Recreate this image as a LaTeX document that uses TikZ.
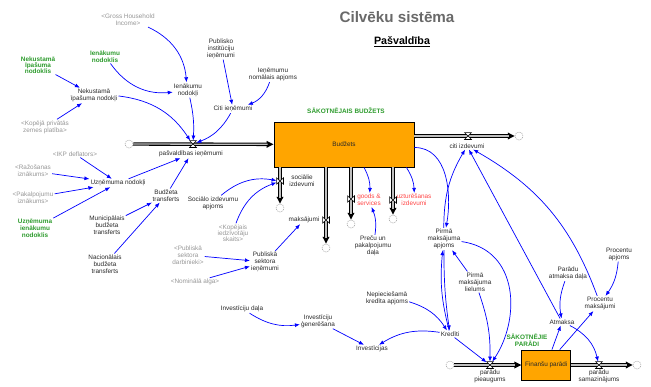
\documentclass[tikz,border=0pt]{standalone}
\usepackage{fontspec}
\setmainfont{Liberation Sans}
\usetikzlibrary{arrows.meta}
\definecolor{sdblue}{RGB}{0,0,255}
\definecolor{sdgreen}{RGB}{45,155,45}
\definecolor{sdred}{RGB}{255,70,70}
\definecolor{sdgrey}{RGB}{150,150,150}
\definecolor{sdtext}{RGB}{40,40,40}
\definecolor{stockfill}{RGB}{255,165,0}
\definecolor{titlegrey}{RGB}{105,105,105}

\begin{document}
\begin{tikzpicture}[x=1pt,y=1pt,
  lbl/.style={font=\fontsize{6.4}{7}\selectfont, align=center, inner sep=1pt, text=sdtext},
  shadow/.style={lbl, text=sdgrey},
  given/.style={lbl, text=sdgreen, font=\fontsize{6.4}{7}\selectfont\bfseries},
  redlbl/.style={lbl, text=sdred},
  stock/.style={lbl, draw=black, line width=0.8pt, fill=stockfill, inner sep=0pt},
  cloud/.style={circle, draw=gray!75, dash pattern=on 1.3pt off 0.9pt, line width=0.5pt, minimum size=8pt, inner sep=0pt},
  pipe/.style={line width=3.4pt, draw=black, -{Triangle[length=7pt,width=6.5pt]},
    postaction={draw=gray!50, line width=1.3pt, -, shorten >=6pt}},
  valveh/.style={minimum width=6.5pt, minimum height=6.5pt, inner sep=0pt},
  valvev/.style={minimum width=6.5pt, minimum height=6pt, inner sep=0pt},
  valvedraw/.style={draw=black, line width=0.6pt, fill=white, line join=miter},
  conn/.style={draw=sdblue, line width=0.7pt, -{Latex[length=5pt,width=4pt]}},
]
\useasboundingbox (0,0) rectangle (651,-386);

% headings
\node[font=\fontsize{15.2}{17}\selectfont\bfseries, text=titlegrey] (ttl) at (397,-17) {Cilvēku sistēma};
\node[font=\fontsize{10.7}{12}\selectfont\bfseries, text=black] (sub) at (402,-42) {\underline{Pašvaldība}};

% stocks
\node[stock, minimum width=140pt, minimum height=45pt] (bud) at (344,-144.5) {Budžets};
\node[stock, minimum width=49pt, minimum height=30pt] (fin) at (546.3,-365) {Finanšu parādi};
\node[given] (sakb) at (346,-111) {SĀKOTNĒJAIS BUDŽETS};
\node[given] (sakp) at (527,-340) {SĀKOTNĒJIE\\PARĀDI};

% clouds
\node[cloud] (cin) at (129,-144) {};
\node[cloud] (cciz) at (519,-136) {};
\node[cloud] (csoc) at (280,-208) {};
\node[cloud] (cmk) at (326,-248) {};
\node[cloud] (cgs) at (351,-224) {};
\node[cloud] (cuz) at (393,-219) {};
\node[cloud] (cpin) at (450,-365) {};
\node[cloud] (cpout) at (637,-365) {};

% flow pipes
\draw[pipe] (cin) -- (bud);
\draw[pipe] (cciz -| bud.east) -- (cciz);
\draw[pipe] (csoc |- bud.south) -- (csoc);
\draw[pipe] (cmk |- bud.south) -- (cmk);
\draw[pipe] (cgs |- bud.south) -- (cgs);
\draw[pipe] (cuz |- bud.south) -- (cuz);
\draw[pipe] (cpin) -- (fin);
\draw[pipe] (fin) -- (cpout);

% valves
\node[valveh] (vin) at (193,-144) {};
\node[valveh] (vciz) at (468,-136) {};
\node[valvev] (vsoc) at (280,-181) {};
\node[valvev] (vmk) at (326,-220) {};
\node[valvev] (vgs) at (351,-199) {};
\node[valvev] (vuz) at (393,-200) {};
\node[valveh] (vpin) at (490,-365) {};
\node[valveh] (vpout) at (599,-365) {};
\foreach \v in {vin,vciz,vpin,vpout}
  \draw[valvedraw] (\v.north west) -- (\v.north east) -- (\v.south west) -- (\v.south east) -- cycle;
\foreach \v in {vsoc,vmk,vgs,vuz}
  \draw[valvedraw] (\v.north west) -- (\v.south west) -- (\v.north east) -- (\v.south east) -- cycle;

% flow names
\node[lbl] (pie) at (191,-154) {pašvaldības ieņēmumi};
\node[lbl] (ciz) at (467,-146) {citi izdevumi};
\node[lbl] (slbl) at (302,-181) {sociālie\\izdevumi};
\node[lbl] (mk) at (304,-220) {maksājumi};
\node[redlbl] (gs) at (369,-200) {goods \&\\services};
\node[redlbl] (uzt) at (414,-200) {uzturēšanas\\izdevumi};
\node[lbl] (ppl) at (490,-376) {parādu\\pieaugums};
\node[lbl] (psl) at (599,-376) {parādu\\samazinājums};

% auxiliaries and inputs
\node[shadow] (ghi) at (128,-20) {<Gross Household\\Income>};
\node[given] (ien) at (105,-56.5) {Ienākumu\\nodoklis};
\node[given, font=\fontsize{6.4}{6}\selectfont\bfseries] (nekn) at (38,-65) {Nekustamā\\īpašuma\\nodoklis};
\node[lbl] (ienn) at (188,-90) {Ienākumu\\nodokļi};
\node[lbl] (nekd) at (94,-95.5) {Nekustamā\\īpašuma nodokļi};
\node[shadow] (kpz) at (45,-127) {<Kopējā privātās\\zemes platība>};
\node[lbl] (pii) at (221,-48.5) {Publisko\\institūciju\\ieņēmumi};
\node[lbl] (inoa) at (273,-74.5) {Ieņēmumu\\nomālais apjoms};
\node[lbl] (citi) at (233,-109) {Citi ieņēmumi};
\node[shadow] (ikp) at (75,-154) {<IKP deflators>};
\node[shadow] (raz) at (33,-171) {<Ražošanas\\iznākums>};
\node[shadow] (pak) at (33,-197.5) {<Pakalpojumu\\iznākums>};
\node[lbl] (uzn) at (118,-183) {Uzņēmuma nodokļi};
\node[given] (uzin) at (35,-228) {Uzņēmuma\\ienākumu\\nodoklis};
\node[lbl] (bt) at (166,-195.5) {Budžeta\\transferts};
\node[lbl] (mbt) at (107,-225) {Municipālais\\budžeta\\transferts};
\node[lbl] (nbt) at (105,-264) {Nacionālais\\budžeta\\transferts};
\node[lbl] (sia) at (213,-203) {Sociālo izdevumu\\apjoms};
\node[shadow, font=\fontsize{6.4}{6.2}\selectfont] (kis) at (233,-233) {<Kopējais\\iedzīvotāju\\skaits>};
\node[lbl] (psi) at (265,-262) {Publiskā\\sektora\\ieņēmumi};
\node[shadow] (psd) at (188,-255) {<Publiskā\\sektora\\darbinieki>};
\node[shadow] (nom) at (195,-282) {<Nominālā alga>};
\node[lbl] (ppd) at (373,-246) {Preču un\\pakalpojumu\\daļa};
\node[lbl] (pma) at (444,-239) {Pirmā\\maksājuma\\apjoms};
\node[lbl] (pml) at (475,-282) {Pirmā\\maksājuma\\lielums};
\node[lbl] (nka) at (387,-298) {Nepieciešamā\\kredīta apjoms};
\node[lbl] (kred) at (450,-334) {Kredīti};
\node[lbl] (inv) at (372,-349) {Investīcijas};
\node[lbl] (ivd) at (242,-309) {Investīciju daļa};
\node[lbl] (ivg) at (318,-321) {Investīciju\\ģenerēšana};
\node[lbl] (pad) at (568,-273.5) {Parādu\\atmaksa daļa};
\node[lbl] (pra) at (619,-254) {Procentu\\apjoms};
\node[lbl] (prm) at (600,-303.5) {Procentu\\maksājumi};
\node[lbl] (atm) at (562,-322) {Atmaksa};

% causal links: revenues
\draw[conn] (ghi) to[bend left=30] (ienn);
\draw[conn] (ien) to[bend right=30] (ienn);
\draw[conn] (nekn) -- (nekd);
\draw[conn] (kpz) -- (nekd);
\draw[conn] (nekd) to[bend left=25] (vin);
\draw[conn] (ienn) to[bend left=8] (vin);
\draw[conn] (citi) to[bend left=20] (vin);
\draw[conn] (pii) -- (citi);
\draw[conn] (inoa) to[bend left=25] (citi);
\draw[conn] (ikp) -- (uzn);
\draw[conn] (raz) -- (uzn);
\draw[conn] (pak) -- (uzn);
\draw[conn] (uzin) -- (uzn);
\draw[conn] (uzn) -- (pie);
\draw[conn] (bt) -- (pie);
\draw[conn] (mbt) -- (bt);
\draw[conn] (nbt) -- (bt);

% causal links: expenditures
\draw[conn] (sia) to[bend left=25] (vsoc);
\draw[conn] (kis) to[bend left=25] (vsoc);
\draw[conn] (psd) -- (psi);
\draw[conn] (nom) -- (psi);
\draw[conn] (psi) -- (mk);
\draw[conn] ([xshift=20pt]bud.south) to[bend left=15] (gs);
\draw[conn] ([xshift=-8pt]bud.south east) to[bend left=15] (uzt);
\draw[conn] (ppd) to[bend right=15] (gs);
\draw[conn] ([yshift=-3pt]bud.east) to[out=0,in=80] (pma);
\draw[conn] (pma) to[bend left=15] (ciz);
\draw[conn] (atm) -- (ciz);
\draw[conn] (prm) to[bend right=20] (ciz);

% causal links: debt
\draw[conn] (pml) -- (pma);
\draw[conn] (kred) to[bend left=10] (pma);
\draw[conn] (pma) to[bend right=4] (kred);
\draw[conn] (nka) to[bend left=20] (kred);
\draw[conn] (kred) to[bend right=20] (inv);
\draw[conn] (ivg) -- (inv);
\draw[conn] (ivd) to[bend right=20] (ivg);
\draw[conn] (kred) -- (vpin);
\draw[conn] (pml) to[bend left=10] (vpin);
\draw[conn] (pma) .. controls (520,-250) and (520,-320) .. (vpin);
\draw[conn] (fin) -- (atm);
\draw[conn] (fin) -- (prm);
\draw[conn] (atm) to[bend left=25] (vpout);
\draw[conn] (pad) to[bend right=15] (atm);
\draw[conn] (pra) to[bend left=15] (prm);
\end{tikzpicture}
\end{document}
